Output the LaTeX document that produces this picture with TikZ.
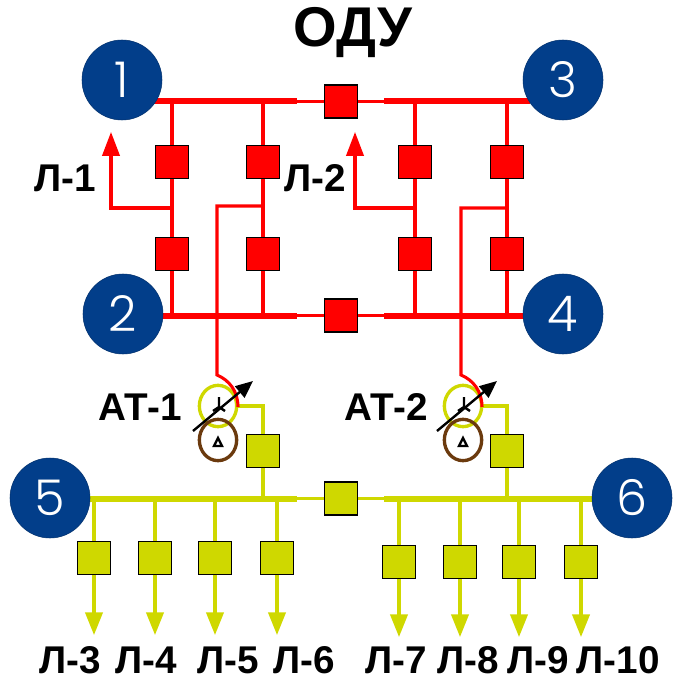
\documentclass[tikz,border=0pt]{standalone}
\usepackage{fontspec}
\setmainfont{Liberation Sans}
\newfontfamily\numfont{Poppins Light}
\usetikzlibrary{arrows.meta, shapes.geometric}
\definecolor{BusRed}   {HTML}{FF0000}
\definecolor{BusYel}   {HTML}{CFD800}
\definecolor{NodeBlue} {HTML}{023E8A}
\definecolor{WindBrown}{HTML}{6B3A0E}
\tikzset{
  every node/.style={font=\fontsize{29}{32}\selectfont\bfseries, inner sep=0pt},
  % numbered substation circles
  sub/.style={circle, fill=NodeBlue, draw=NodeBlue!80!black, minimum size=60pt,
              text=white, font=\fontsize{37}{40}\numfont},
  % breakers
  brk/.style ={draw=black, line width=1.2pt, minimum size=25pt},
  brkr/.style={brk, fill=BusRed},
  brky/.style={brk, fill=BusYel},
  % lines
  wire/.style ={line width=2.3pt},
  wirer/.style={wire, draw=BusRed},
  wirey/.style={wire, draw=BusYel},
  busr/.style ={draw=BusRed, line width=4.5pt},
  busy/.style ={draw=BusYel, line width=4.5pt},
  outr/.style ={wirer, -{Triangle[length=18pt,width=13pt]}},
  outy/.style ={wirey, -{Triangle[length=17pt,width=13pt]}},
  reg/.style  ={draw=black, line width=1.8pt, -{Triangle[length=13pt,width=11pt]}},
  wind/.style ={ellipse, line width=2.5pt, minimum width=28pt, minimum height=31pt},
  sym/.style  ={draw=black, line width=1.8pt},
}
\begin{document}
\begin{tikzpicture}[x=0.75pt, y=-0.75pt]
\useasboundingbox (0,0) rectangle (675,677);
% buses
\coordinate (t0) at (150,101.5);  \coordinate (t1) at (297,101.5);
\coordinate (t2) at (384,101.5);  \coordinate (t3) at (530,101.5);
\coordinate (m0) at (150,315.5);  \coordinate (m1) at (297,315.5);
\coordinate (m2) at (384,315.5);  \coordinate (m3) at (530,315.5);
\coordinate (b0) at (90,498.5);   \coordinate (b1) at (297,498.5);
\coordinate (b2) at (384,498.5);  \coordinate (b3) at (595,498.5);
\draw[busr] (t0) -- (t1);
\draw[busr] (t2) -- (t3);
\draw[busr] (m0) -- (m1);
\draw[busr] (m2) -- (m3);
\draw[busy] (b0) -- (b1);
\draw[busy] (b2) -- (b3);
\node[sub] (s1) at (122,80)  {1};
\node[sub] (s3) at (563,80)  {3};
\node[sub] (s2) at (123,314) {2};
\node[sub] (s4) at (563,314) {4};
\node[sub] (s5) at (50,498)  {5};
\node[sub] (s6) at (632,498) {6};
% section breakers
\node[brkr] (qt) at (341,101.5) {};
\node[brkr] (qm) at (341,315.5) {};
\node[brky] (qb) at (341,498.5) {};
\draw[wirer] (t1) -- (qt) -- (t2);
\draw[wirer] (m1) -- (qm) -- (m2);
\draw[wirey] (b1) -- (qb) -- (b2);
% diameters
\node[brkr] (q1a) at (172,162) {};
\node[brkr] (q1b) at (172,254) {};
\node[brkr] (q2a) at (263,162) {};
\node[brkr] (q2b) at (263,254) {};
\node[brkr] (q3a) at (415,162) {};
\node[brkr] (q3b) at (415,254) {};
\node[brkr] (q4a) at (507,162) {};
\node[brkr] (q4b) at (507,254) {};
\draw[wirer] (172,101) -- (q1a) -- (q1b) -- (172,315);
\draw[wirer] (263,101) -- (q2a) -- (q2b) -- (263,315);
\draw[wirer] (415,101) -- (q3a) -- (q3b) -- (415,315);
\draw[wirer] (507,101) -- (q4a) -- (q4b) -- (507,315);
% line takeoffs
\coordinate (l1) at (111,132);
\coordinate (l2) at (355,132);
\draw[outr] (172,208) -| (l1);
\draw[outr] (415,208) -| (l2);
\node (nl1) at (65,178)  {Л-1};
\node (nl2) at (315,178) {Л-2};
% autotransformers
\node[wind, draw=BusYel]    (w1a) at (218,406) {};
\node[wind, draw=WindBrown] (w1b) at (218,440) {};
\node[wind, draw=BusYel]    (w2a) at (463,406) {};
\node[wind, draw=WindBrown] (w2b) at (463,440) {};
\node[brky] (q5) at (263,451) {};
\node[brky] (q6) at (507,451) {};
\draw[wirey] (238,406) -| (q5);
\draw[wirey] (483,406) -| (q6);
\draw[wirey] (q5) -- (263,498);
\draw[wirey] (q6) -- (507,498);
\draw[wirer] (263,206) -| (217,375) .. controls (229,380) and (238,391) .. (238,407);
\draw[wirer] (507,208) -| (461,375) .. controls (473,380) and (482,391) .. (482,407);
% windings
\draw[sym] (219,397) -- (219,407) -- (213,411) (219,407) -- (225,411);
\draw[sym] (464,397) -- (464,407) -- (458,411) (464,407) -- (470,411);
\draw[sym] (218,438) -- (222,446) -- (214,446) -- cycle;
\draw[sym] (463,438) -- (467,446) -- (459,446) -- cycle;
\coordinate (r1a) at (193,431); \coordinate (r1b) at (253,381);
\coordinate (r2a) at (437,431); \coordinate (r2b) at (497,381);
\draw[reg] (r1a) -- (r1b);
\draw[reg] (r2a) -- (r2b);
\node (nat1) at (140,407) {АТ-1};
\node (nat2) at (386,407) {АТ-2};
% low side feeders
\node[brky] (f3)  at (94,558)  {};
\node[brky] (f4)  at (155,558) {};
\node[brky] (f5)  at (215,558) {};
\node[brky] (f6)  at (277,558) {};
\node[brky] (f7)  at (399,562) {};
\node[brky] (f8)  at (460,562) {};
\node[brky] (f9)  at (519,562) {};
\node[brky] (f10) at (581,562) {};
\draw[outy] (94,498)  -- (f3)  -- (94,635);
\draw[outy] (155,498) -- (f4)  -- (155,635);
\draw[outy] (215,498) -- (f5)  -- (215,635);
\draw[outy] (277,498) -- (f6)  -- (277,635);
\draw[outy] (399,498) -- (f7)  -- (399,637);
\draw[outy] (460,498) -- (f8)  -- (460,637);
\draw[outy] (519,498) -- (f9)  -- (519,637);
\draw[outy] (581,498) -- (f10) -- (581,637);
\node (n3)  at (70,660)  {Л-3};
\node (n4)  at (146,660) {Л-4};
\node (n5)  at (228,660) {Л-5};
\node (n6)  at (304,660) {Л-6};
\node (n7)  at (396,660) {Л-7};
\node (n8)  at (468,660) {Л-8};
\node (n9)  at (538,660) {Л-9};
\node (n10) at (618,660) {Л-10};
\node[font=\fontsize{42}{45}\selectfont\bfseries] (title) at (353,33) {ОДУ};
\end{tikzpicture}
\end{document}
